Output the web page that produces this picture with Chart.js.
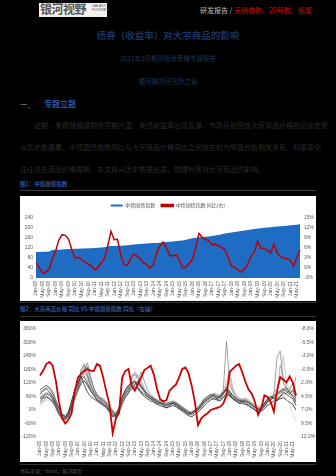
<!DOCTYPE html>
<html><head><meta charset="utf-8">
<script src="https://cdn.jsdelivr.net/npm/chart.js@4/dist/chart.umd.min.js"></script>
<style>
html,body{margin:0;padding:0;background:#000;}
#page{position:relative;width:336px;height:476px;overflow:hidden;background:#000;font-family:"Noto Sans CJK SC","Liberation Sans",sans-serif;}
.t{position:absolute;white-space:nowrap;line-height:1;}
.rule{position:absolute;left:20px;width:296px;}
canvas{position:absolute;background:#fff;}
</style></head>
<body><div id="page">
<div class="t" style="left:39px;top:3px;width:68px;height:14px;background:#f0f0f0;"></div>
<div class="t" style="left:40px;top:3px;font-size:12px;font-weight:bold;color:#555;letter-spacing:-0.5px;">银河视野</div>
<div class="t" style="left:92px;top:5px;font-size:3.5px;color:#555;font-family:'Liberation Sans';line-height:1.1;">GALAXY<br>FUTURES</div>
<div class="t" style="left:200px;top:7px;font-size:7px;color:#bdbdbd;">研发报告 <span style="color:#bdbdbd">/</span> <span style="color:#e00000;">天然橡胶、20号胶、纸浆</span></div>
<div class="t" style="left:0;width:336px;text-align:center;top:31px;font-size:9.5px;font-weight:bold;color:#1c325e;">债券（收益率）对大宗商品的影响</div>
<div class="t" style="left:0;width:336px;text-align:center;top:55px;font-size:6.5px;color:#1c325e;">2021年8月期货投资策略专题报告</div>
<div class="t" style="left:0;width:336px;text-align:center;top:78px;font-size:6.5px;color:#1c325e;">银河期货研究所之窗</div>
<div class="t" style="left:20px;top:101px;font-size:7.5px;color:#8a8a8a;">一、</div>
<div class="t" style="left:44px;top:100px;font-size:8px;font-weight:bold;color:#2f5597;">专题立题</div>
<div class="t" style="left:34px;top:122px;font-size:7px;color:#2b2b2b;">近期，美联储缩减购债预期升温，美债收益率出现反弹，市场开始担忧大宗商品价格的后续走势</div>
<div class="t" style="left:20px;top:144px;font-size:7px;color:#2b2b2b;">从历史数据看，中债国债指数同比与大宗商品价格同比之间存在较为明显的负相关关系，利率变化</div>
<div class="t" style="left:20px;top:166px;font-size:7px;color:#2b2b2b;">往往领先商品价格周期。本文将从历史数据出发，梳理利率对大宗商品的影响。</div>
<div class="t" style="left:20px;top:182px;font-size:5.5px;font-weight:bold;color:#2f5597;">图1：中债国债指数</div>
<div class="rule" style="top:190px;height:1px;background:#3c3c3c;"></div>
<canvas id="c1" width="296" height="105" style="left:20px;top:196px;"></canvas>
<div class="rule" style="top:302px;height:1px;background:#333;"></div>
<div class="t" style="left:20px;top:307px;font-size:5.5px;font-weight:bold;color:#2f5597;">图2：大宗商品价格 同比 VS 中债国债指数 同比（右轴）</div>
<div class="rule" style="top:316px;height:1px;background:#333;"></div>
<canvas id="c2" width="296" height="141" style="left:20px;top:321px;"></canvas>
<div class="rule" style="top:464px;height:1px;background:#333;"></div>
<div class="t" style="left:20px;top:468px;font-size:5px;color:#555;">资料来源：Wind，银河期货</div>
</div>
<script>
const categories = [
"Jan-08","Mar-08","May-08","Jul-08","Sep-08","Nov-08",
"Jan-09","Mar-09","May-09","Jul-09","Sep-09","Nov-09",
"Jan-10","Mar-10","May-10","Jul-10","Sep-10","Nov-10",
"Jan-11","Mar-11","May-11","Jul-11","Sep-11","Nov-11",
"Jan-12","Mar-12","May-12","Jul-12","Sep-12","Nov-12",
"Jan-13","Mar-13","May-13","Jul-13","Sep-13","Nov-13",
"Jan-14","Mar-14","May-14","Jul-14","Sep-14","Nov-14",
"Jan-15","Mar-15","May-15","Jul-15","Sep-15","Nov-15",
"Jan-16","Mar-16","May-16","Jul-16","Sep-16","Nov-16",
"Jan-17","Mar-17","May-17","Jul-17","Sep-17","Nov-17",
"Jan-18","Mar-18","May-18","Jul-18","Sep-18","Nov-18",
"Jan-19","Mar-19","May-19","Jul-19","Sep-19","Nov-19",
"Jan-20","Mar-20","May-20","Jul-20","Sep-20","Nov-20",
"Jan-21","Mar-21","May-21","Jul-21"];

// Chart 1
const legend1 = ["中债国债指数", "中债国债指数 同比(右)"];
const indexLevel = [104,104,105,105,106,112,113,113,114,115,116,116,117,117,118,118,119,119,120,121,
122,123,127,128,128,129,129,130,131,132,134,135,136,137,138,139,140,140,141,143,
144,145,146,148,149,150,153,156,159,161,163,164,165,166,168,170,172,175,178,180,
182,184,186,188,190,192,194,196,198,199,201,202,203,205,206,207,208,209,211,212,213,215];
const indexYoY = [1.6,0.2,-1.6,-1.2,-0.4,2.5,5.0,8.4,10.0,9.8,8.6,5.5,3.0,3.2,2.6,1.8,1.2,0.6,-0.6,0.0,
1.5,2.8,6.5,11.0,8.5,8.6,4.0,1.0,0.8,2.8,4.2,3.6,2.6,1.6,1.0,0.0,1.0,4.5,6.6,7.8,
6.2,3.8,3.6,4.0,2.4,0.0,0.2,1.4,2.6,6.2,10.4,9.2,8.6,8.2,6.9,7.2,6.6,6.2,5.4,3.0,
0.6,0.2,-0.6,-1.2,-0.2,1.2,3.5,4.8,8.0,6.0,5.8,5.4,4.5,7.2,4.6,3.4,3.0,2.8,2.4,0.6,3.0,5.4];

// Chart 2
const yoyRight = [0.6,-0.3,-1.5,-1.9,-1.2,1.5,5.5,8.5,9.5,8.8,7.6,3.5,1.0,0.3,-0.2,-0.6,-0.3,-0.2,-1.5,-1.2,
1.0,3.6,6.0,11.3,8.6,7.5,1.0,-0.2,-0.6,2.5,3.4,2.2,1.0,-0.4,-0.8,-1.2,0.4,3.0,5.0,5.4,
5.2,3.4,2.8,2.3,1.0,-0.6,-0.9,0.2,2.5,5.5,9.8,8.6,8.0,7.6,7.0,6.8,6.6,6.4,5.8,4.3,
0.0,-0.6,-1.2,-1.5,0.0,1.8,3.2,4.0,5.5,7.9,6.7,4.3,4.6,5.5,7.3,3.5,0.9,1.4,1.9,0.8,1.9,4.3];
const commodity1 = [70,85,95,80,60,30,10,-20,-30,-10,40,90,120,150,110,80,60,50,40,30,
20,10,-10,-30,-20,10,60,90,110,120,130,100,80,70,60,50,40,30,30,20,
10,20,30,20,10,0,-10,-20,-10,0,10,30,50,60,70,60,50,60,80,90,
70,50,40,30,40,30,20,10,0,-10,10,30,50,60,50,40,60,80,70,60,50,20];
const commodity2 = [50,60,70,65,50,20,-10,-30,-40,-20,20,70,100,130,150,120,90,70,50,40,
30,20,0,-20,-30,0,40,70,90,100,110,130,110,90,70,60,50,40,30,25,
20,25,30,25,15,5,-5,-15,-20,-10,0,20,40,50,60,70,60,55,70,100,
80,60,50,40,35,40,30,20,10,0,0,20,40,50,60,70,80,90,100,80,60,40];
const commodity3 = [30,40,55,50,40,10,-20,-40,-45,-30,10,50,90,180,200,160,110,80,60,50,
40,30,10,-10,-25,-10,30,60,80,150,160,140,100,80,60,50,45,35,30,30,
25,30,35,30,20,10,0,-10,-15,-5,5,15,30,45,55,50,45,50,60,70,
60,50,45,40,45,40,35,25,15,5,5,15,35,45,55,50,60,70,75,90,120,60];
const commodity4 = [80,90,100,95,70,40,0,-25,-35,-15,30,80,110,140,170,210,150,100,70,50,
40,25,5,-15,-25,-5,50,80,100,110,120,110,170,130,90,70,55,45,40,35,
30,35,40,35,25,15,5,-5,-10,0,10,25,45,55,65,75,70,65,90,306,
120,80,60,50,45,50,40,30,20,10,15,25,45,55,70,234,263,120,90,80,80,147];
const commodity5 = [40,50,60,55,45,25,5,-15,-25,-5,30,70,130,160,190,140,100,80,60,45,
35,25,10,-5,-15,5,45,75,95,130,170,150,120,90,70,55,45,40,35,30,
25,30,35,30,20,10,0,-10,-15,-5,5,20,35,50,60,65,60,60,75,110,
150,90,60,45,40,45,35,25,15,5,10,20,40,50,60,80,200,150,100,70,60,30];
const commodity6 = [60,70,80,75,60,30,0,-20,-30,-10,40,80,120,170,210,180,130,90,70,55,
45,35,15,0,-10,10,50,80,100,120,140,160,130,100,80,65,55,45,40,35,
30,35,40,35,25,15,5,-5,-10,0,10,25,40,55,65,70,65,65,80,130,
180,100,70,55,50,55,45,35,25,15,20,30,50,60,70,100,130,240,120,90,70,40];
const commodity7 = [20,30,45,40,30,5,-25,-45,-50,-35,0,40,80,110,140,130,100,75,55,45,
35,25,5,-20,-40,-20,20,50,70,90,100,110,90,70,55,45,40,30,25,20,
15,20,25,20,10,0,-10,-20,-25,-15,-5,10,25,40,50,55,50,45,60,80,
70,55,45,35,35,30,25,15,5,-5,0,10,25,35,45,50,55,60,50,20,-20,-50];
const commodity8 = [40,55,60,50,35,15,-15,-35,-40,-25,15,55,85,120,130,110,85,65,45,35,
25,15,-5,-25,-35,-15,25,55,75,95,105,95,75,60,50,40,35,25,20,15,
10,15,20,15,5,-5,-15,-25,-30,-20,-10,5,20,35,45,50,45,40,55,75,
65,50,40,30,30,25,20,10,0,-10,-5,5,20,30,40,45,50,55,45,35,25,0];
const commodity9 = [90,100,110,100,80,45,5,-20,-30,-15,35,85,115,160,180,190,140,95,70,55,
50,35,15,-5,-20,0,55,85,105,115,125,120,100,85,70,60,50,40,35,30,
25,30,35,30,20,10,0,-10,-15,-5,5,20,40,50,60,65,60,60,75,95,
85,65,55,45,40,45,35,25,15,5,10,25,45,55,65,75,85,95,80,70,90,50];
const commodity10 = [55,65,75,70,55,25,-5,-25,-35,-20,25,75,110,145,160,150,110,85,65,50,
40,30,10,-10,-20,5,45,70,95,105,115,125,105,85,65,55,50,40,35,25,
20,25,30,25,15,5,-5,-15,-20,-10,0,15,35,45,55,60,55,55,70,90,
75,55,50,40,40,35,30,20,10,0,5,15,35,45,55,60,75,85,90,75,65,35];
const commoditySeries = [commodity1,commodity2,commodity3,commodity4,commodity5,commodity6,commodity7,commodity8,commodity9,commodity10];
const greyShades = ["#2b2b2b","#4a4a4a","#666666","#8a8a8a","#a3a3a3","#bdbdbd","#d4d4d4","#141414","#3a3a3a","#777777"];

const tickFont = {family:"Liberation Sans", size:5};
const tickColor = "#595959";
const noGrid = {display:false, drawTicks:false};
const xTicks = pad => ({autoSkip:false, maxRotation:90, minRotation:90, padding:pad, color:tickColor, font:tickFont,
  callback:(v,i)=> i%2===0 ? categories[i] : ''});

new Chart(document.getElementById('c1'), {
  type:'line',
  data:{labels:categories, datasets:[
    {label:legend1[0], data:indexLevel, yAxisID:'y', fill:'origin', backgroundColor:'#1f6cc4', borderColor:'#1f6cc4', borderWidth:0, pointRadius:0, order:2},
    {label:legend1[1], data:indexYoY, yAxisID:'y1', fill:false, backgroundColor:'#c00000', borderColor:'#c00000', borderWidth:1.5, pointRadius:0, order:1}
  ]},
  options:{responsive:false, animation:false, devicePixelRatio:1,
    layout:{padding:{top:1,left:0,right:0,bottom:0}},
    plugins:{legend:{display:true, position:'top', labels:{boxWidth:12, boxHeight:2, font:{family:"Noto Sans CJK SC", size:5}, color:'#595959', padding:6, sort:(a,b)=>a.datasetIndex-b.datasetIndex}}, tooltip:{enabled:false}},
    scales:{
      x:{grid:noGrid, border:{display:false}, ticks:xTicks(3), afterFit:s=>{s.height=23;}},
      y:{position:'left', min:0, max:240, grid:noGrid, border:{display:false},
         ticks:{stepSize:40, color:tickColor, font:tickFont, padding:3}, afterFit:s=>{s.width=16;}},
      y1:{position:'right', min:-3, max:15, grid:noGrid, border:{display:false},
         ticks:{stepSize:3, color:tickColor, font:tickFont, padding:4, callback:v=>v+'%'}, afterFit:s=>{s.width=16;}}
    }}
});

const ds2 = [{label:'中债国债指数 同比(右,逆序)', data:yoyRight, yAxisID:'y1', borderColor:'#d00000', borderWidth:1.8, pointRadius:0, fill:false, order:0}];
commoditySeries.forEach((s,k)=>ds2.push({label:'商品'+(k+1), data:s, yAxisID:'y', borderColor:greyShades[k], borderWidth:0.8, pointRadius:0, fill:false, order:1}));

new Chart(document.getElementById('c2'), {
  type:'line',
  data:{labels:categories, datasets:ds2},
  options:{responsive:false, animation:false, devicePixelRatio:1,
    layout:{padding:{top:7,left:0,right:0,bottom:0}},
    plugins:{legend:{display:false}, tooltip:{enabled:false}},
    scales:{
      x:{grid:noGrid, border:{display:false}, ticks:xTicks(4), afterFit:s=>{s.height=25;}},
      y:{position:'left', min:-120, max:360, grid:noGrid, border:{display:false},
         ticks:{stepSize:60, color:tickColor, font:tickFont, padding:4, callback:v=>v+'%'}, afterFit:s=>{s.width=20;}},
      y1:{position:'right', min:-8, max:12, reverse:true, grid:noGrid, border:{display:false},
         ticks:{stepSize:2.5, color:tickColor, font:tickFont, padding:5, callback:v=>v.toFixed(1)+'%'}, afterFit:s=>{s.width=20;}}
    }}
});
</script>
</body></html>
